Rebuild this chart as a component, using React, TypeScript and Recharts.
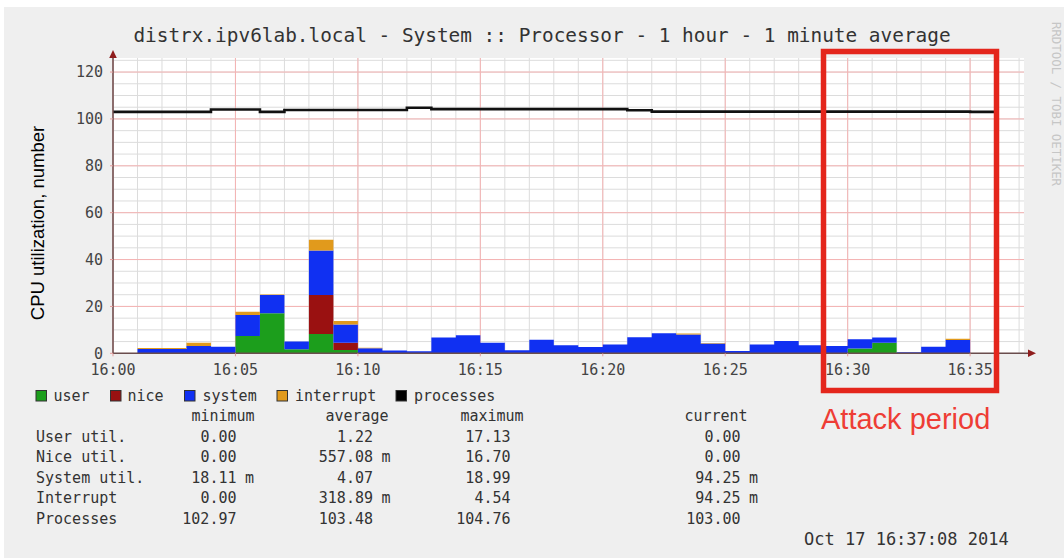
import React from "react";
import { ComposedChart, Area, Line, XAxis, YAxis, CartesianGrid } from "recharts";

// ---- data (one value per minute, 16:00 .. 16:36) ----
const minutes = [0,1,2,3,4,5,6,7,8,9,10,11,12,13,14,15,16,17,18,19,20,21,22,23,24,25,26,27,28,29,30,31,32,33,34,35,36];
const userUtil = [0,0,0,0,0,7.4,17.13,1.7,8.2,1.4,0,0,0,0,0,0,0,0,0,0,0,0,0,0,0,0,0,0,0,0,2.0,4.5,0,0,0,0,0];
const niceUtil = [0,0,0,0,0,0,0,0,16.7,3.1,0,0,0,0,0,0,0,0,0,0,0,0,0,0,0,0,0,0,0,0,0,0,0,0,0,0,0];
const systemUtil = [0,1.8,1.8,3.1,2.8,8.9,7.7,3.3,18.99,7.8,2.2,1.2,0.9,6.7,7.7,4.5,1.3,5.8,3.4,2.7,3.8,6.8,8.6,8.0,4.2,1.0,3.8,5.2,3.4,3.1,4.0,2.2,0.5,2.8,5.7,0.09,0.09];
const interruptUtil = [0,0.5,0.5,1.4,0,1.4,0.3,0,4.54,1.5,0.2,0,0,0,0,0,0,0,0,0,0,0,0,0.4,0.2,0,0,0,0,0,0,0,0,0,0.5,0.09,0.09];
const processes = [103.0,103.0,103.0,103.0,104.0,104.0,103.0,103.8,103.8,103.8,103.8,103.8,104.76,104.2,104.2,104.2,104.2,104.2,104.2,104.2,104.2,103.7,103.1,103.1,103.1,103.1,103.1,103.1,103.1,103.1,103.1,103.1,103.1,103.1,103.1,103.0,103.0];

const xTicks = [0,5,10,15,20,25,30,35];
const xTickLabels = ["16:00","16:05","16:10","16:15","16:20","16:25","16:30","16:35"];
const yTicks = [0,20,40,60,80,100,120];
const minorX = [0,1,2,3,4,5,6,7,8,9,10,11,12,13,14,15,16,17,18,19,20,21,22,23,24,25,26,27,28,29,30,31,32,33,34,35,36,37];
const minorY = [5,10,15,20,25,30,35,40,45,50,55,60,65,70,75,80,85,90,95,100,105,110,115,120,125];
const majorY = [20,40,60,80,100,120];

const legendItems = [
  { name: "user", color: "#1c9e1c" },
  { name: "nice", color: "#9a1111" },
  { name: "system", color: "#1030f2" },
  { name: "interrupt", color: "#e19a1c" },
  { name: "processes", color: "#000000" },
];

const statHeaders = ["minimum", "average", "maximum", "current"];
const statLabels = ["User util.", "Nice util.", "System util.", "Interrupt", "Processes"];
const statMin = [["0.00", ""], ["0.00", ""], ["18.11", "m"], ["0.00", ""], ["102.97", ""]];
const statAvg = [["1.22", ""], ["557.08", "m"], ["4.07", ""], ["318.89", "m"], ["103.48", ""]];
const statMax = [["17.13", ""], ["16.70", ""], ["18.99", ""], ["4.54", ""], ["104.76", ""]];
const statCur = [["0.00", ""], ["0.00", ""], ["94.25", "m"], ["94.25", "m"], ["103.00", ""]];

const chartData = minutes.map((t, i) => ({
  t,
  user: userUtil[i],
  nice: niceUtil[i],
  system: systemUtil[i],
  interrupt: interruptUtil[i],
  processes: processes[i],
}));

const MONO = "'DejaVu Sans Mono', monospace";
const AXIS = "#6a4d4d";

export default function App() {
  const legendSwatchX = [36, 110.5, 184.5, 277, 396];
  const legendTextX = [53.5, 127.5, 202.5, 295, 414];
  const headerX = [223, 357, 492, 716];
  const colEnd = [236.5, 373, 510.5, 740.5];
  const cols = [statMin, statAvg, statMax, statCur];
  return (
    <div style={{ position: "absolute", left: 0, top: 0, width: 1064, height: 558, background: "#ffffff", overflow: "hidden" }}>
      <div style={{ position: "absolute", left: 4, top: 7, width: 1060, height: 551, background: "#efefef" }} />
      <div style={{ position: "absolute", left: 0, top: 0 }}>
        <ComposedChart
          width={1064}
          height={558}
          data={chartData}
          margin={{ top: 58, left: 112, right: 40, bottom: 203.7 }}
        >
          <CartesianGrid
            fill="#ffffff"
            stroke="#dcdcdc"
            verticalValues={minorX}
            horizontalValues={minorY}
          />
          <CartesianGrid
            stroke="#f5b3b3"
            verticalValues={xTicks}
            horizontalValues={majorY}
          />
          <XAxis
            dataKey="t"
            type="number"
            domain={[0, 37.2]}
            ticks={xTicks}
            interval={0}
            allowDataOverflow
            height={1}
            tickFormatter={(v: number) => xTickLabels[xTicks.indexOf(v)]}
            tick={{ fontFamily: MONO, fontSize: 15, fill: "#444" }}
            tickLine={{ stroke: "#e39a9a" }}
            tickSize={3}
            tickMargin={8}
            axisLine={{ stroke: AXIS, strokeWidth: 1.5 }}
          />
          <YAxis
            type="number"
            domain={[0, 126]}
            ticks={yTicks}
            interval={0}
            allowDataOverflow
            width={1}
            tick={{ fontFamily: MONO, fontSize: 15, fill: "#444" }}
            tickLine={{ stroke: "#e39a9a" }}
            tickSize={3}
            tickMargin={7}
            axisLine={{ stroke: AXIS, strokeWidth: 1.5 }}
          />
          <Area type="stepAfter" dataKey="user" stackId="cpu" fill="#1c9e1c" fillOpacity={1} stroke="none" isAnimationActive={false} dot={false} activeDot={false} />
          <Area type="stepAfter" dataKey="nice" stackId="cpu" fill="#9a1111" fillOpacity={1} stroke="none" isAnimationActive={false} dot={false} activeDot={false} />
          <Area type="stepAfter" dataKey="system" stackId="cpu" fill="#1030f2" fillOpacity={1} stroke="none" isAnimationActive={false} dot={false} activeDot={false} />
          <Area type="stepAfter" dataKey="interrupt" stackId="cpu" fill="#e19a1c" fillOpacity={1} stroke="none" isAnimationActive={false} dot={false} activeDot={false} />
          <Line type="stepAfter" dataKey="processes" stroke="#111111" strokeWidth={2.6} dot={false} activeDot={false} isAnimationActive={false} />
        </ComposedChart>
      </div>
      <svg width={1064} height={558} style={{ position: "absolute", left: 0, top: 0, pointerEvents: "none" }}>
        {/* axis arrows */}
        <line x1={1024} y1={353.3} x2={1029} y2={353.3} stroke={AXIS} strokeWidth={1.5} />
        <polygon points="1036,353.3 1028,349.5 1028,357.1" fill="#8f1d1d" />
        <line x1={113} y1={52} x2={113} y2={58} stroke={AXIS} strokeWidth={1.5} />
        <polygon points="113,50 109.2,58 116.8,58" fill="#8f1d1d" />
        {/* title */}
        <text x={542} y={42} textAnchor="middle" fontFamily={MONO} fontSize={19.4} fill="#333">
          distrx.ipv6lab.local - System :: Processor - 1 hour - 1 minute average
        </text>
        {/* watermark */}
        <text transform="translate(1052,104) rotate(90)" textAnchor="middle" fontFamily={MONO} fontSize={12.4} fill="#c6c6c6">
          RRDTOOL / TOBI OETIKER
        </text>
        {/* y label */}
        <text transform="translate(37,223) rotate(-90)" textAnchor="middle" dominantBaseline="central" fontFamily="'Liberation Sans', Arial, sans-serif" fontSize={18.5} fill="#000">
          CPU utilization, number
        </text>
        {/* legend */}
        {legendItems.map((it, i) => (
          <g key={it.name}>
            <rect x={legendSwatchX[i]} y={390.5} width={10.5} height={10.5} fill={it.color} stroke="#333" strokeWidth={1} />
            <text x={legendTextX[i]} y={401} fontFamily={MONO} fontSize={15} fill="#333">{it.name}</text>
          </g>
        ))}
        {/* table headers */}
        {statHeaders.map((h, i) => (
          <text key={h} x={headerX[i]} y={421} textAnchor="middle" fontFamily={MONO} fontSize={15} fill="#333">{h}</text>
        ))}
        {statLabels.map((lab, r) => (
          <g key={lab}>
            <text x={36} y={442 + r * 20.45} fontFamily={MONO} fontSize={15} fill="#333">{lab}</text>
            {cols.map((col, c) => (
              <g key={c}>
                <text x={colEnd[c]} y={442 + r * 20.45} textAnchor="end" fontFamily={MONO} fontSize={15} fill="#333">{col[r][0]}</text>
                {col[r][1] ? (
                  <text x={colEnd[c] + 8.5} y={442 + r * 20.45} fontFamily={MONO} fontSize={15} fill="#333">{col[r][1]}</text>
                ) : null}
              </g>
            ))}
          </g>
        ))}
        {/* date */}
        <text x={804} y={545} fontFamily={MONO} fontSize={17} fill="#333">Oct 17 16:37:08 2014</text>
        {/* attack annotation */}
        <rect x={823.5} y={51.5} width={173} height={339} fill="none" stroke="#e4261c" strokeWidth={5.5} />
        <text x={821} y={429} fontFamily="'Liberation Sans', Arial, sans-serif" fontSize={29} fill="#ee3d35">Attack period</text>
      </svg>
    </div>
  );
}
